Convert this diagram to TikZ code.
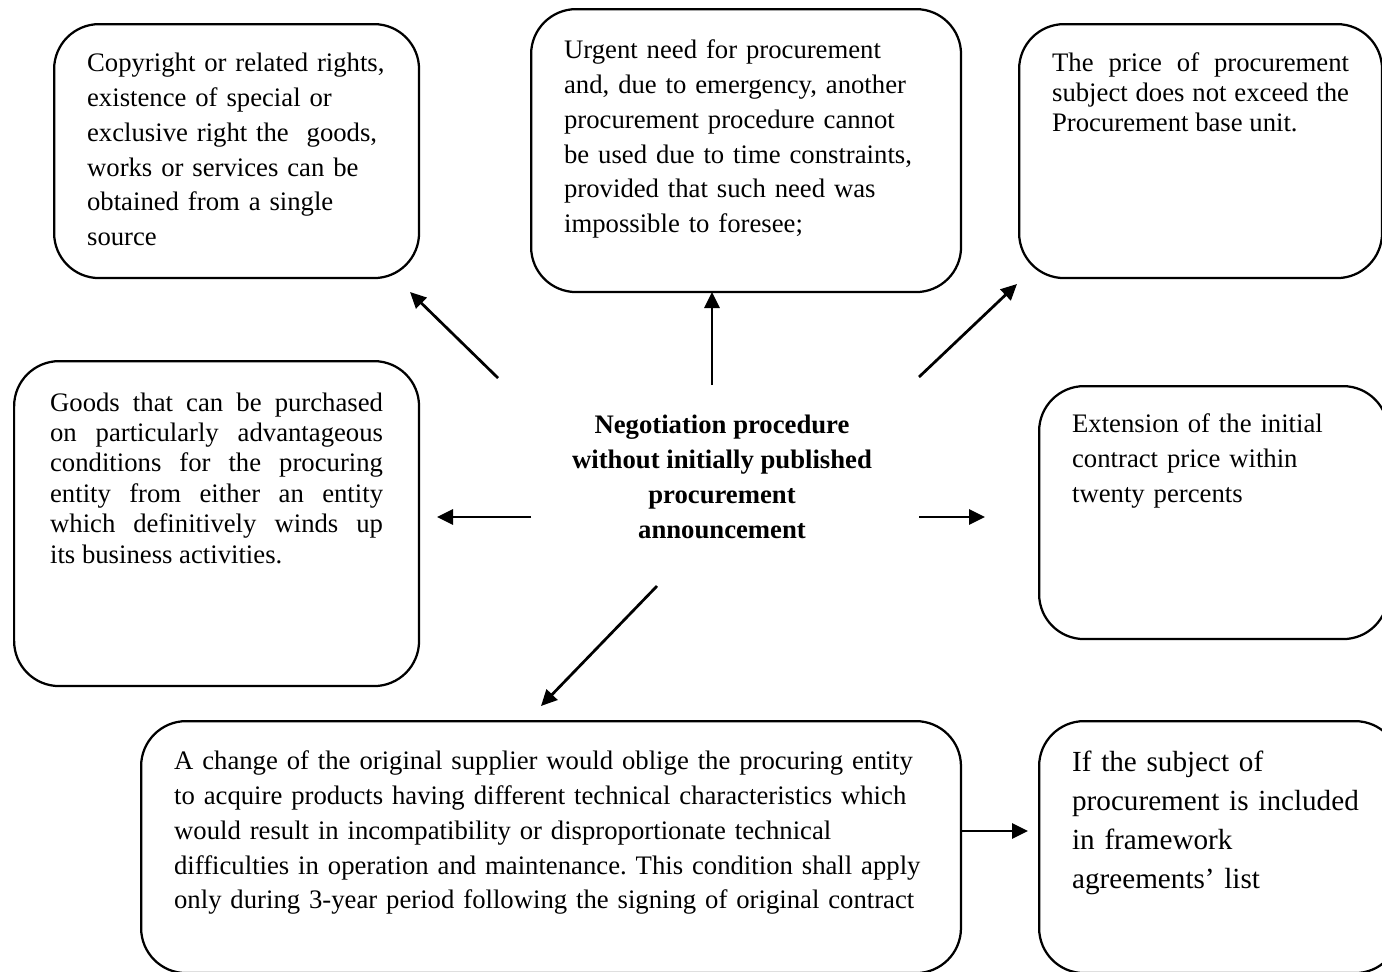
\documentclass[tikz,border=0pt]{standalone}
\usepackage{fontspec}
\setmainfont{Liberation Serif}
\usetikzlibrary{arrows.meta}
\frenchspacing
\hyphenpenalty=10000

\begin{document}
\begin{tikzpicture}[x=0.02cm, y=-0.02cm,
    cond/.style={draw=black, line width=0.45mm, rounded corners=0.9cm, anchor=north west,
        inner xsep=0.66cm, inner ysep=0.48cm, text height=0.46cm, align=left,
        font=\fontsize{15.2}{19.9}\selectfont},
    arr/.style={-{Triangle[length=0.32cm, width=0.3cm]}, line width=0.55mm}]
    \useasboundingbox (0,0) rectangle (1382,971);
    \clip (0,0) rectangle (1382,971);

    \node[align=center, font=\bfseries\fontsize{15.2}{19.9}\selectfont] (neg) at (722,477) {Negotiation procedure\\without initially published\\procurement\\announcement};

    \node[cond, text width=5.98cm, text depth=3.66cm] (rights) at (53,23) {Copyright or related rights,\\existence of special or\\exclusive right the\ \ goods,\\works or services can be\\obtained from a single\\source};
    \node[cond, text height=0.5cm, text width=7.28cm, text depth=4.2cm] (urgent) at (530,8) {Urgent need for procurement\\and, due to emergency, another\\procurement procedure cannot\\be used due to time constraints,\\provided that such need was\\impossible to foresee;};
    \node[cond, text width=5.94cm, text depth=3.66cm, align=justify, font=\fontsize{15.2}{17.3}\selectfont] (price) at (1018,23) {The price of procurement\linebreak subject does not exceed the\linebreak Procurement base unit.};
    \node[cond, inner xsep=0.72cm, text height=0.52cm, text depth=5.02cm, align=justify, text width=6.66cm, font=\fontsize{15.2}{17.3}\selectfont] (goods) at (13,360) {Goods that can be purchased\linebreak on particularly advantageous\linebreak conditions for the procuring\linebreak entity from either an entity\linebreak which definitively winds up\linebreak its business activities.};
    \node[cond, text height=0.44cm, text width=5.66cm, text depth=3.66cm] (extension) at (1038,385) {Extension of the initial\\contract price within\\twenty percents};
    \node[cond, text height=0.48cm, text width=15.08cm, text depth=3.6cm] (supplier) at (140,720) {A change of the original supplier would oblige the procuring entity\\to acquire products having different technical characteristics which\\would result in incompatibility or disproportionate technical\\difficulties in operation and maintenance. This condition shall apply\\only during 3-year period following the signing of original contract};
    \node[cond, text height=0.52cm, text width=5.9cm, text depth=3.56cm, font=\fontsize{16.6}{22.2}\selectfont] (framework) at (1038,720) {If the subject of\\procurement is included\\in framework\\agreements’ list};

    % arrow ends
    \coordinate (neg-tl) at (498,378);   \coordinate (rights-in) at (410,292);
    \coordinate (neg-t) at (712,385);    \coordinate (urgent-in) at (712,292);
    \coordinate (neg-tr) at (919,377);   \coordinate (price-in) at (1017,284);
    \coordinate (neg-l) at (531,517);    \coordinate (goods-in) at (437,517);
    \coordinate (neg-r) at (919,517);    \coordinate (extension-in) at (985,517);
    \coordinate (neg-b) at (657,586);    \coordinate (supplier-in) at (541,706);
    \coordinate (supplier-out) at (962,831); \coordinate (framework-in) at (1028,831);

    \draw[arr] (neg-tl) -- (rights-in);
    \draw[arr] (neg-t) -- (urgent-in);
    \draw[arr] (neg-tr) -- (price-in);
    \draw[arr] (neg-l) -- (goods-in);
    \draw[arr] (neg-r) -- (extension-in);
    \draw[arr] (neg-b) -- (supplier-in);
    \draw[arr] (supplier-out) -- (framework-in);

\end{tikzpicture}
\end{document}
